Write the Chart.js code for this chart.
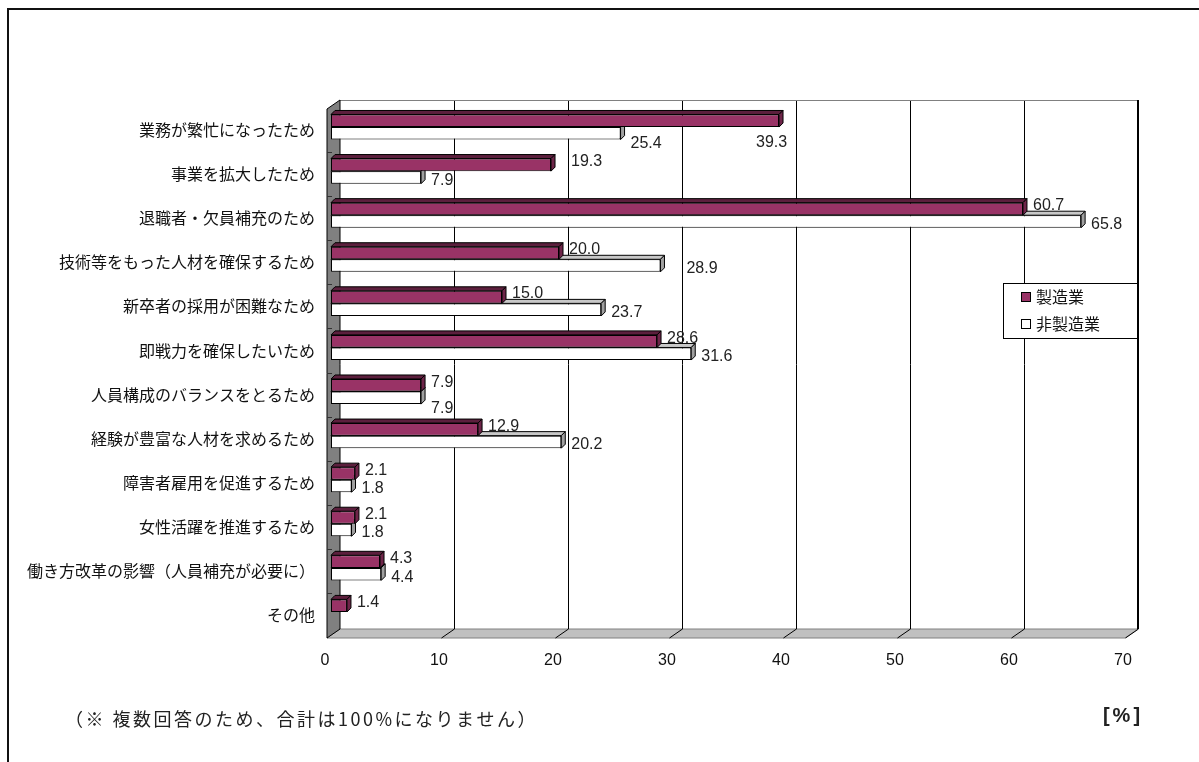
<!DOCTYPE html>
<html lang="ja">
<head>
<meta charset="utf-8">
<title>採用理由（製造業・非製造業）</title>
<script src="https://cdn.jsdelivr.net/npm/chart.js@4/dist/chart.umd.min.js"></script>
<style>
    html, body { margin: 0; padding: 0; background: #fff; }
    #wrap { width: 1199px; height: 762px; }
</style>
</head>
<body>
<div id="wrap"><canvas id="reasonChart" width="1199" height="762"></canvas></div>
<script>
// Reasons for hiring, % of respondents
const categories = [
    '業務が繁忙になったため',
    '事業を拡大したため',
    '退職者・欠員補充のため',
    '技術等をもった人材を確保するため',
    '新卒者の採用が困難なため',
    '即戦力を確保したいため',
    '人員構成のバランスをとるため',
    '経験が豊富な人材を求めるため',
    '障害者雇用を促進するため',
    '女性活躍を推進するため',
    '働き方改革の影響（人員補充が必要に）',
    'その他'
];
const seriesNames = ['製造業', '非製造業'];
const manufacturing = [39.3, 19.3, 60.7, 20.0, 15.0, 28.6, 7.9, 12.9, 2.1, 2.1, 4.3, 1.4];
const nonManufacturing = [25.4, 7.9, 65.8, 28.9, 23.7, 31.6, 7.9, 20.2, 1.8, 1.8, 4.4, null];
const xTicks = [0, 10, 20, 30, 40, 50, 60, 70];

const JP_FONT = '"Noto Sans CJK JP", "Noto Sans", sans-serif';
const NUM_FONT = '"Liberation Sans", Arial, sans-serif';

// a few labels sit away from their default spot so they don't collide
const labelNudge = {
    '0-0': [-33, 25],
    '1-0': [0, 7],
    '1-3': [16, 0],
    '0-1': [10, 0],
    '1-6': [0, 8]
};

// pseudo-3D walls, floor, bar faces and labels
const box3d = {
    id: 'box3d',
    beforeDatasetsDraw(chart) {
        const { ctx, chartArea: a, scales } = chart;
        const xs = scales.x;
        const bl = a.left + 9, br = a.right + 9, bt = a.top - 5, bb = a.bottom - 5;
        const fl = a.left - 4, fb = a.bottom + 4, fr = a.right - 4;
        ctx.save();

        // back wall
        ctx.fillStyle = '#fff';
        ctx.fillRect(bl, bt, br - bl, bb - bt);

        // floor
        ctx.beginPath();
        ctx.moveTo(fl, fb);
        ctx.lineTo(bl, bb);
        ctx.lineTo(br, bb);
        ctx.lineTo(fr, fb);
        ctx.closePath();
        ctx.fillStyle = '#c0c0c0';
        ctx.fill();
        ctx.strokeStyle = '#808080';
        ctx.lineWidth = 1;
        ctx.stroke();

        // gridlines run up the back wall and across the floor
        ctx.strokeStyle = '#000';
        ctx.lineWidth = 1;
        xTicks.forEach(v => {
            if (v === 0) return;
            const x = Math.round(xs.getPixelForValue(v)) + 0.5;
            ctx.beginPath();
            ctx.moveTo(x + 9, bt);
            ctx.lineTo(x + 9, bb);
            ctx.lineTo(x - 4, fb);
            ctx.stroke();
        });

        // wall edges
        ctx.strokeStyle = '#808080';
        ctx.beginPath();
        ctx.moveTo(bl, bt + 0.5);
        ctx.lineTo(br, bt + 0.5);
        ctx.stroke();
        ctx.strokeStyle = '#000';
        ctx.lineWidth = 2;
        ctx.beginPath();
        ctx.moveTo(br, bt);
        ctx.lineTo(br, bb);
        ctx.stroke();

        // left wall
        ctx.beginPath();
        ctx.moveTo(fl, fb);
        ctx.lineTo(fl, a.top + 4);
        ctx.lineTo(bl, bt);
        ctx.lineTo(bl, bb);
        ctx.closePath();
        ctx.fillStyle = '#808080';
        ctx.fill();
        ctx.lineWidth = 1;
        ctx.strokeStyle = '#000';
        ctx.stroke();

        // category ticks on the wall
        const band = (a.bottom - a.top) / categories.length;
        ctx.strokeStyle = '#333';
        for (let i = 1; i < categories.length; i++) {
            const y = Math.round(a.top + i * band) + 0.5;
            ctx.beginPath();
            ctx.moveTo(fl, y + 3);
            ctx.lineTo(fl + 5, y + 3);
            ctx.stroke();
        }
        ctx.restore();
    },
    afterDatasetDraw(chart, args) {
        const { ctx } = chart;
        const ds = chart.data.datasets[args.index];
        const d = 4;
        ctx.save();
        ctx.lineWidth = 1;
        ctx.strokeStyle = '#000';
        ctx.lineJoin = 'miter';
        args.meta.data.forEach((el, i) => {
            if (ds.data[i] == null) return;
            const p = el.getProps(['x', 'y', 'base', 'height'], true);
            const x0 = p.base, x1 = p.x;
            const yt = p.y - p.height / 2, yb = p.y + p.height / 2;
            // top face
            ctx.beginPath();
            ctx.moveTo(x0, yt);
            ctx.lineTo(x0 + d, yt - d);
            ctx.lineTo(x1 + d, yt - d);
            ctx.lineTo(x1, yt);
            ctx.closePath();
            ctx.fillStyle = ds.topColor;
            ctx.fill();
            ctx.stroke();
            // end face
            ctx.beginPath();
            ctx.moveTo(x1, yt);
            ctx.lineTo(x1 + d, yt - d);
            ctx.lineTo(x1 + d, yb - d);
            ctx.lineTo(x1, yb);
            ctx.closePath();
            ctx.fillStyle = ds.sideColor;
            ctx.fill();
            ctx.stroke();
        });
        ctx.restore();
    },
    afterDatasetsDraw(chart) {
        const { ctx } = chart;
        ctx.save();
        ctx.font = '16px ' + NUM_FONT;
        ctx.fillStyle = '#222';
        ctx.textAlign = 'left';
        ctx.textBaseline = 'middle';
        chart.data.datasets.forEach((ds, di) => {
            const meta = chart.getDatasetMeta(di);
            meta.data.forEach((el, i) => {
                const v = ds.data[i];
                if (v == null) return;
                const p = el.getProps(['x', 'y'], true);
                const n = labelNudge[di + '-' + i] || [0, 0];
                const y = p.y + (di === 0 ? -3 : 3);
                ctx.fillText(v.toFixed(1), p.x + 10 + n[0], y + n[1]);
            });
        });
        ctx.restore();
    },
    afterDraw(chart) {
        const { ctx } = chart;
        ctx.save();

        // legend
        ctx.fillStyle = '#fff';
        ctx.fillRect(1003, 283, 134, 55);
        ctx.strokeStyle = '#000';
        ctx.lineWidth = 1;
        ctx.strokeRect(1003.5, 283.5, 134, 55);
        ctx.font = '16px ' + JP_FONT;
        ctx.textBaseline = 'middle';
        ctx.textAlign = 'left';
        chart.data.datasets.forEach((ds, i) => {
            const y = 297 + i * 27;
            ctx.fillStyle = ds.backgroundColor;
            ctx.fillRect(1022, y - 4, 8, 8);
            ctx.strokeRect(1021.5, y - 4.5, 9, 9);
            ctx.fillStyle = '#111';
            ctx.fillText(ds.label, 1036, y);
        });

        // footnote and unit
        ctx.fillStyle = '#222';
        ctx.font = '18px ' + JP_FONT;
        ctx.letterSpacing = '2.5px';
        ctx.fillText('（※ 複数回答のため、合計は100%になりません）', 65, 719);
        ctx.font = 'bold 20px ' + NUM_FONT;
        ctx.letterSpacing = '3px';
        ctx.textAlign = 'center';
        ctx.fillText('[%]', 1123, 716);
        ctx.letterSpacing = '0px';

        // outer frame
        ctx.strokeStyle = '#111';
        ctx.lineWidth = 2;
        ctx.beginPath();
        ctx.moveTo(1199, 9);
        ctx.lineTo(8, 9);
        ctx.lineTo(8, 762);
        ctx.stroke();
        ctx.restore();
    }
};

new Chart(document.getElementById('reasonChart'), {
    type: 'bar',
    data: {
        labels: categories,
        datasets: [
            {
                label: seriesNames[0],
                data: manufacturing,
                backgroundColor: '#993366',
                topColor: '#5c1f3d',
                sideColor: '#6e2549',
                borderColor: '#000',
                borderWidth: 1,
                borderSkipped: false
            },
            {
                label: seriesNames[1],
                data: nonManufacturing,
                backgroundColor: '#ffffff',
                topColor: '#c8c8c8',
                sideColor: '#a0a0a0',
                borderColor: '#000',
                borderWidth: 1,
                borderSkipped: false
            }
        ]
    },
    options: {
        indexAxis: 'y',
        responsive: false,
        animation: false,
        devicePixelRatio: 1,
        categoryPercentage: 0.57,
        barPercentage: 1.0,
        layout: {
            padding: { left: 0, right: 70, top: 105, bottom: 88 }
        },
        scales: {
            x: {
                min: 0,
                max: 70,
                afterBuildTicks(scale) {
                    scale.ticks = xTicks.map(v => ({ value: v }));
                },
                afterFit(scale) { scale.height = 40; },
                grid: { display: false, drawTicks: false },
                border: { display: false },
                ticks: {
                    padding: 17,
                    labelOffset: -6,
                    color: '#111',
                    font: { family: NUM_FONT, size: 16 }
                }
            },
            y: {
                afterFit(scale) { scale.width = 331; },
                grid: { display: false, drawTicks: false },
                border: { display: false },
                ticks: {
                    padding: 16,
                    labelOffset: 3,
                    color: '#111',
                    font: { family: JP_FONT, size: 16 }
                }
            }
        },
        plugins: {
            legend: { display: false },
            tooltip: { enabled: false }
        }
    },
    plugins: [box3d]
});
</script>
</body>
</html>
